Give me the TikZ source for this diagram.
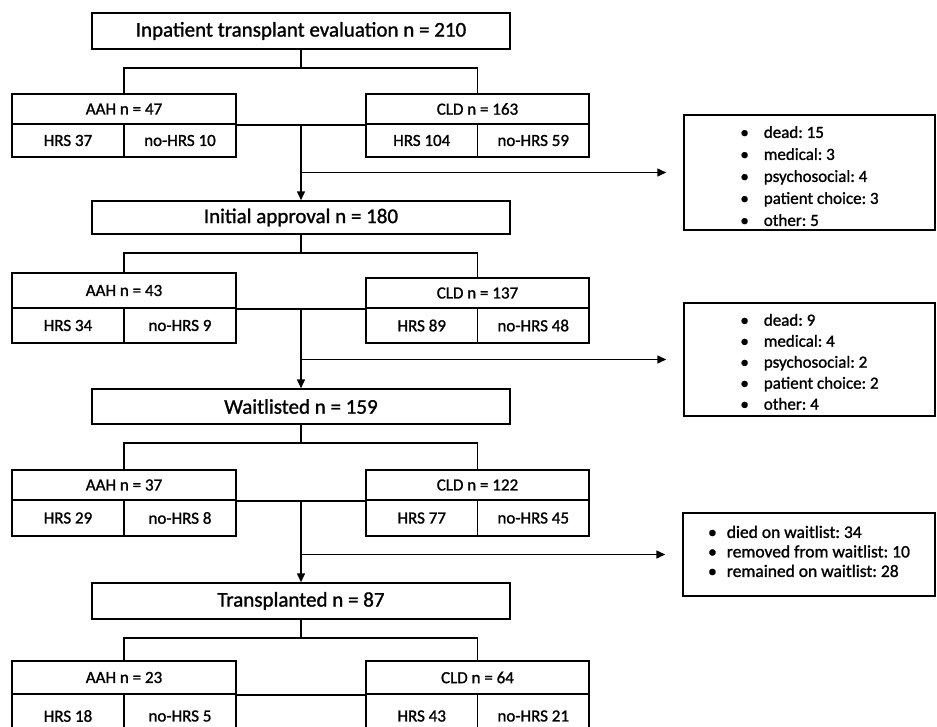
\documentclass[tikz,border=0pt]{standalone}
\usepackage{fontspec}
\setmainfont{Carlito}[FakeBold=1.2]
\usetikzlibrary{arrows.meta}
\frenchspacing
\begin{document}
\begin{tikzpicture}[x=1pt,y=-1pt,
  box/.style={draw,line width=1.5pt,inner sep=0pt},
  mainbox/.style={box,minimum width=418pt,font=\fontsize{21}{25}\selectfont},
  hdr/.style={box,font=\fontsize{17}{20}\selectfont},
  cell/.style={box,font=\fontsize{17}{20}\selectfont},
  sidebox/.style={box},
  sidetext/.style={inner sep=0pt,align=left,font=\fontsize{17}{22}\selectfont},
  conn/.style={line width=1.5pt},
  arr/.style={line width=1.5pt,-{Triangle[length=9pt,width=8pt]}}]
\useasboundingbox[fill=white] (0,0) rectangle (937,726);

% main boxes
\node[mainbox,minimum height=36pt] (m1) at (301,31) {Inpatient transplant evaluation n = 210};
\node[mainbox,minimum height=33pt] (m2) at (301,217.5) {Initial approval n = 180};
\node[mainbox,minimum height=35pt] (m3) at (301,406.5) {Waitlisted n = 159};
\node[mainbox,minimum height=36pt] (m4) at (301,601) {Transplanted n = 87};

% level 1 groups
\node[hdr,minimum width=224pt,minimum height=30pt] (aah1) at (124,109) {AAH n = 47};
\node[cell,minimum width=112pt,minimum height=33pt] (aah1a) at (68,140.5) {HRS 37};
\node[cell,minimum width=112pt,minimum height=33pt] (aah1b) at (180,140.5) {no-HRS 10};
\node[hdr,minimum width=223pt,minimum height=30pt] (cld1) at (477.5,109) {CLD n = 163};
\node[cell,minimum width=111.5pt,minimum height=33pt] (cld1a) at (421.75,140.5) {HRS 104};
\node[cell,minimum width=111.5pt,minimum height=33pt] (cld1b) at (533.25,140.5) {no-HRS 59};

% level 2 groups
\node[hdr,minimum width=224pt,minimum height=35pt] (aah2) at (124,290.5) {AAH n = 43};
\node[cell,minimum width=112pt,minimum height=35pt] (aah2a) at (68,325.5) {HRS 34};
\node[cell,minimum width=112pt,minimum height=35pt] (aah2b) at (180,325.5) {no-HRS 9};
\node[hdr,minimum width=223pt,minimum height=30pt] (cld2) at (477.5,293) {CLD n = 137};
\node[cell,minimum width=111.5pt,minimum height=35pt] (cld2a) at (421.75,325.5) {HRS 89};
\node[cell,minimum width=111.5pt,minimum height=35pt] (cld2b) at (533.25,325.5) {no-HRS 48};

% level 3 groups
\node[hdr,minimum width=224pt,minimum height=30pt] (aah3) at (124,485) {AAH n = 37};
\node[cell,minimum width=112pt,minimum height=36pt] (aah3a) at (68,518) {HRS 29};
\node[cell,minimum width=112pt,minimum height=36pt] (aah3b) at (180,518) {no-HRS 8};
\node[hdr,minimum width=223pt,minimum height=30pt] (cld3) at (477.5,485) {CLD n = 122};
\node[cell,minimum width=111.5pt,minimum height=36pt] (cld3a) at (421.75,518) {HRS 77};
\node[cell,minimum width=111.5pt,minimum height=36pt] (cld3b) at (533.25,518) {no-HRS 45};

% level 4 groups
\node[hdr,minimum width=224pt,minimum height=33pt] (aah4) at (124,677.5) {AAH n = 23};
\node[cell,minimum width=112pt,minimum height=44pt] (aah4a) at (68,716) {HRS 18};
\node[cell,minimum width=112pt,minimum height=44pt] (aah4b) at (180,716) {no-HRS 5};
\node[hdr,minimum width=223pt,minimum height=33pt] (cld4) at (477.5,677.5) {CLD n = 64};
\node[cell,minimum width=111.5pt,minimum height=44pt] (cld4a) at (421.75,716) {HRS 43};
\node[cell,minimum width=111.5pt,minimum height=44pt] (cld4b) at (533.25,716) {no-HRS 21};

% side boxes
\node[sidebox,minimum width=251pt,minimum height=115pt] (s1) at (809.5,172.5) {};
\node[sidetext] (s1t) at ([yshift=-5pt]s1.center)
  {\begin{tabular}{@{}l@{\hspace{15pt}}l@{}}
   • & dead: 15\\ • & medical: 3\\ • & psychosocial: 4\\ • & patient choice: 3\\ • & other: 5
   \end{tabular}};
\node[sidebox,minimum width=251pt,minimum height=113pt] (s2) at (809.5,359.5) {};
\node[sidetext,font=\fontsize{17}{21}\selectfont] (s2t) at ([yshift=-4pt]s2.center)
  {\begin{tabular}{@{}l@{\hspace{15pt}}l@{}}
   • & dead: 9\\ • & medical: 4\\ • & psychosocial: 2\\ • & patient choice: 2\\ • & other: 4
   \end{tabular}};
\node[sidebox,minimum width=252pt,minimum height=83pt] (s3) at (809,554.5) {};
\node[sidetext,font=\fontsize{17.5}{19.5}\selectfont] (s3t) at ([yshift=1pt]s3.center)
  {\begin{tabular}{@{}l@{\hspace{10pt}}l@{}}
   • & died on waitlist: 34\\ • & removed from waitlist: 10\\ • & remained on waitlist: 28
   \end{tabular}};

% branches from main boxes to groups
\foreach \m/\a/\c in {m1/aah1/cld1, m2/aah2/cld2, m3/aah3/cld3, m4/aah4/cld4}{
  \draw[conn] (\m.south) -- ++(0,18) -| (\a.north);
  \draw[conn] (\m.south) ++(0,18) -| (\c.north);
  \draw[conn] (\a.south east) -- (\c.south west);
}

% trunk arrows to next stage
\draw[arr] (m1.south |- aah1.south) -- (m2.north);
\draw[arr] (m2.south |- aah2.south) -- (m3.north);
\draw[arr] (m3.south |- aah3.south) -- (m4.north);

% side arrows
\draw[arr,shorten >=17pt] (m1.south |- s1.west) -- (s1.west);
\draw[arr,shorten >=17pt] (m2.south |- s2.west) -- (s2.west);
\draw[arr,shorten >=17pt] (m3.south |- s3.west) -- (s3.west);
\end{tikzpicture}
\end{document}
